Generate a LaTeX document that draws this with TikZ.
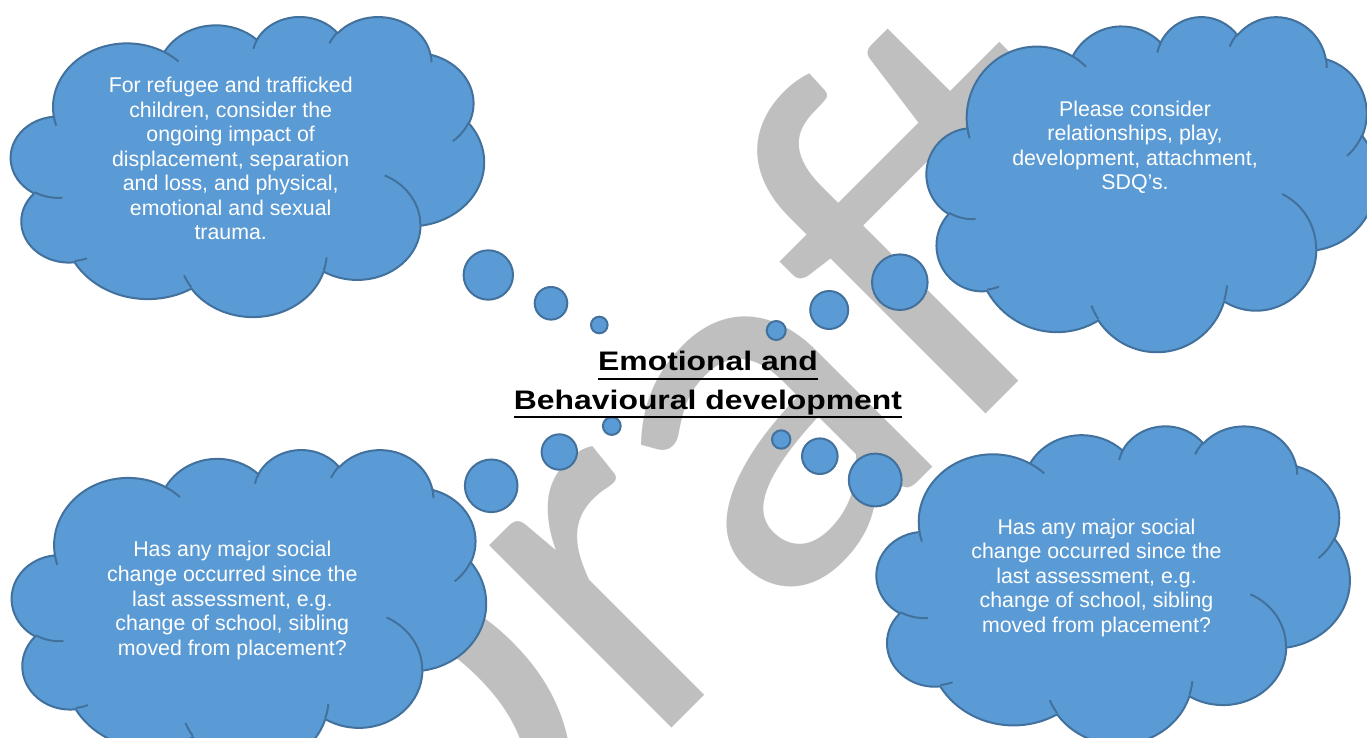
\documentclass[tikz,border=0pt]{standalone}
\usepackage{fontspec}
\setmainfont{Liberation Sans}
\newfontfamily\wmfont{Carlito}
\newfontface\titlefont[FakeStretch=1.19]{Liberation Sans Bold}
\definecolor{cloudfill}{HTML}{5B9BD5}
\definecolor{cloudedge}{HTML}{41719C}
\definecolor{wmgrey}{RGB}{191,191,191}

% Cloud outline in a 43.2 x 43.2 box (DrawingML cloud geometry / 1000).
% DrawingML gives ray angles; TikZ arcs want parametric angles.
\newcommand\mkarc[5]{% name, wR, hR, start, sweep
  \pgfmathsetmacro\cltmpa{atan2((#2)*sin(#4),(#3)*cos(#4))}%
  \pgfmathsetmacro\cltmpr{atan2((#2)*sin((#4)+(#5)),(#3)*cos((#4)+(#5)))}%
  \pgfmathsetmacro\cltmpb{\cltmpa+mod(\cltmpr-\cltmpa+720,360)}%
  \expandafter\xdef\csname cl#1\endcsname{arc[x radius=#2,y radius=#3,start angle=\cltmpa,end angle=\cltmpb]}%
}
\newcommand\mkcrease[7]{% name, x, y, wR, hR, start, sweep
  \pgfmathsetmacro\cltmpa{atan2((#4)*sin(#6),(#5)*cos(#6))}%
  \pgfmathsetmacro\cltmpr{atan2((#4)*sin((#6)+(#7)),(#5)*cos((#6)+(#7)))}%
  \pgfmathsetmacro\cltmpb{\cltmpa+mod(\cltmpr-\cltmpa+720,360)}%
  \expandafter\xdef\csname cs#1\endcsname{(#2,#3) arc[x radius=#4,y radius=#5,start angle=\cltmpa,end angle=\cltmpb]}%
}
\mkarc{A}{6.753}{9.190}{-190.48748}{123.78053}
\mkarc{B}{5.333}{7.267}{-144.10238}{89.94523}
\mkarc{C}{4.365}{5.945}{-145.80792}{99.72302}
\mkarc{D}{4.857}{6.595}{-130.98607}{117.24173}
\mkarc{E}{5.333}{7.273}{-78.70888}{109.02692}
\mkarc{F}{6.775}{9.220}{-46.26725}{130.26900}
\mkarc{G}{5.785}{7.867}{0.62502}{114.03333}
\mkarc{H}{6.752}{9.215}{22.45160}{115.17255}
\mkarc{I}{7.720}{10.543}{66.24263}{75.71102}
\mkarc{J}{4.360}{5.918}{-274.94208}{146.73557}
\mkarc{K}{4.345}{5.945}{-246.82850}{152.51885}
\mkcrease{A}{4.693}{26.177}{4.345}{5.945}{86.74200}{26.42950}
\mkcrease{B}{6.928}{34.899}{4.360}{5.918}{73.61047}{11.44747}
\mkcrease{C}{16.478}{39.090}{6.752}{9.215}{137.62415}{14.08110}
\mkcrease{D}{28.827}{34.751}{6.752}{9.215}{6.45327}{15.99835}
\mkcrease{E}{34.129}{22.954}{5.785}{7.867}{-70.29235}{70.91737}
\mkcrease{F}{41.798}{15.354}{5.333}{7.273}{30.31803}{27.75150}
\mkcrease{G}{38.324}{5.426}{4.857}{6.595}{-13.74433}{14.85890}
\mkcrease{H}{29.078}{3.952}{4.857}{6.595}{-149.18145}{18.19537}
\mkcrease{I}{22.141}{4.720}{4.365}{5.945}{-163.49427}{17.68635}
\mkcrease{J}{14.000}{5.192}{6.753}{9.190}{-66.70695}{12.31935}
\mkcrease{K}{4.127}{15.789}{6.753}{9.190}{157.65435}{11.85817}

\newcommand\drawcloud[4]{% left, top, width, height (px)
  \begin{scope}[shift={(#1,#2)}, xscale=#3/43.2, yscale=#4/43.2]
    \path[cloudbody] (3.9,14.37) \clA\clB\clC\clD\clE\clF\clG\clH\clI\clJ\clK -- cycle;
    \path[crease] \csA\csB\csC\csD\csE\csF\csG\csH\csI\csJ\csK;
  \end{scope}}

\newcommand\ulbox[1]{\setbox0=\hbox{#1}\rlap{\rule[-6.67pt]{\wd0}{1.65pt}}\box0}
\newcommand\firstline{\rule{0pt}{15pt}}
\newcommand\titlestrut{\rule{0pt}{20pt}}

\begin{document}
\begin{tikzpicture}[x=0.75pt, y=-0.75pt,
  cloudbody/.style={fill=cloudfill, draw=cloudedge, line width=1.5pt, line join=round},
  crease/.style={draw=cloudedge, line width=1.5pt},
  bubble/.style={circle, fill=cloudfill, draw=cloudedge, line width=1.5pt,
    inner sep=0pt, minimum size={2*(#1)*0.75pt}},
  cloudtext/.style={text=white, align=center, inner sep=0pt, anchor=north,
    font=\fontsize{16pt}{18.4pt}\selectfont},
  titletext/.style={text=black, align=center, inner sep=0pt, anchor=north,
    font=\titlefont\fontsize{20.1pt}{28.95pt}\selectfont},
  watermark/.style={text=wmgrey, inner sep=0pt, anchor=base, rotate=45,
    font=\wmfont\fontsize{405pt}{405pt}\selectfont}]
\useasboundingbox (0,0) rectangle (1367,738);
\fill[white] (0,0) rectangle (1367,738);

% diagonal watermark behind everything
\node[watermark] (wm) at (801,599) {Draft};

% four thought clouds
\drawcloud{11}{16}{473}{300}
\drawcloud{926.7}{16}{450}{335}
\drawcloud{12}{449}{474}{317}
\drawcloud{876.7}{425.3}{473}{318}

% trailing bubbles towards the centre
\node[bubble=24.7] (tl1) at (488.3,275) {};
\node[bubble=16.3] (tl2) at (551,303.3) {};
\node[bubble=8.3]  (tl3) at (599.3,325) {};
\node[bubble=27.8] (tr1) at (899.8,282.2) {};
\node[bubble=19]   (tr2) at (829.2,310) {};
\node[bubble=9.5]  (tr3) at (776.2,330.5) {};
\node[bubble=26.3] (bl1) at (491.2,485.8) {};
\node[bubble=17.7] (bl2) at (559.3,452) {};
\node[bubble=8.9]  (bl3) at (611.8,426) {};
\node[bubble=26.4] (br1) at (875.2,480) {};
\node[bubble=17.8] (br2) at (819.8,456.2) {};
\node[bubble=9.2]  (br3) at (781.2,439.5) {};

% cloud texts
\node[cloudtext] (t1) at (230.7,72.3) {\firstline For refugee and trafficked\\children, consider the\\ongoing impact of\\displacement, separation\\and loss, and physical,\\emotional and sexual\\trauma.};
\node[cloudtext] (t2) at (1135,96) {\firstline Please consider\\relationships, play,\\development, attachment,\\SDQ’s.};
\node[cloudtext] (t3) at (232.3,536.7) {\firstline Has any major social\\change occurred since the\\last assessment, e.g.\\change of school, sibling\\moved from placement?};
\node[cloudtext] (t4) at (1096.5,514) {\firstline Has any major social\\change occurred since the\\last assessment, e.g.\\change of school, sibling\\moved from placement?};

% centre title
\node[titletext] (title) at (708,344) {\titlestrut\ulbox{Emotional and}\\\ulbox{Behavioural development}};
\end{tikzpicture}
\end{document}
